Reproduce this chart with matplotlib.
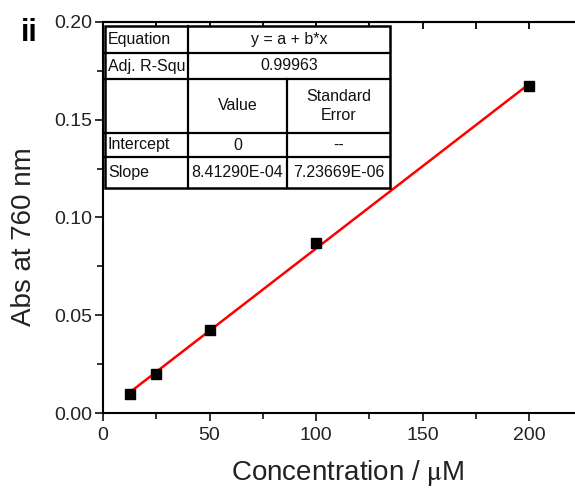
import numpy as np
import matplotlib
matplotlib.use("Agg")
from matplotlib import pyplot as plt
from matplotlib.ticker import MultipleLocator, FormatStrFormatter

plt.rcParams['font.family'] = ['Liberation Sans', 'DejaVu Sans']
plt.rcParams['mathtext.fontset'] = 'stix'

conc = [12.5, 25, 50, 100, 200]
absorb = [0.0097, 0.0200, 0.0424, 0.0872, 0.1675]
slope = 8.41290E-04
intercept = 0.0

table_rows = [
    ["Equation", "y = a + b*x"],
    ["Adj. R-Squ", "0.99963"],
    ["", "Value", "Standard\nError"],
    ["Intercept", "0", "--"],
    ["Slope", "8.41290E-04", "7.23669E-06"],
]

W, H = 575, 491
fig = plt.figure(figsize=(W / 100, H / 100), dpi=100)

# axes in pixel terms: origin (103, 413), x 2.13 px/unit, y top at 22
x0, y0, ytop = 103, 413, 22
ppu = 2.13
xmax = 230
ax_w = xmax * ppu
ax = fig.add_axes([x0 / W, 1 - y0 / H, ax_w / W, (y0 - ytop) / H])

xfit = np.array([conc[0], conc[-1]])
ax.plot(xfit, intercept + slope * xfit, color='#ff0000', lw=1.8, zorder=2)
ax.plot(conc, absorb, 's', color='black', ms=6.5, zorder=3)

ax.set_xlim(0, xmax)
ax.set_ylim(0, 0.20)
ax.xaxis.set_major_locator(MultipleLocator(50))
ax.xaxis.set_minor_locator(MultipleLocator(25))
ax.yaxis.set_major_locator(MultipleLocator(0.05))
ax.yaxis.set_minor_locator(MultipleLocator(0.025))
ax.yaxis.set_major_formatter(FormatStrFormatter('%.2f'))
ax.set_xticks([0, 50, 100, 150, 200])

for s in ax.spines.values():
    s.set_linewidth(1.5)
ax.spines['right'].set_visible(False)

ax.tick_params(which='both', direction='out', top=False, width=1.3, labelsize=14, colors='#222222')
ax.tick_params(which='major', length=6, pad=2)
ax.tick_params(which='minor', length=4)
ax.tick_params(axis='x', which='major', pad=4)
secx = ax.secondary_xaxis('top')
secx.xaxis.set_major_locator(MultipleLocator(25))
secx.tick_params(direction='in', length=5, width=1.3, labeltop=False)
secx.spines['top'].set_linewidth(1.5)

ax.set_xlabel('Concentration / $\\mathrm{\\mu}$M', fontsize=20, labelpad=10, color='#222222')
ax.set_ylabel('Abs at 760 nm', fontsize=20, color='#222222', va='center')
# label centre at about x = 24 px in the figure
ax.yaxis.set_label_coords((24 - x0) / ax_w, 0.45)

fig.text(21 / W, 1 - 33 / H, 'ii', fontsize=22, fontweight='bold', va='center', ha='left')

# results table, drawn in figure pixel coordinates
def fx(px):
    return px / W

def fy(py):
    return 1 - py / H

cols = [105, 188, 287, 390]
rows = [26, 53, 79, 133, 157, 188]
lk = dict(color='black', lw=1.6, transform=fig.transFigure, zorder=5)
fig.add_artist(plt.Rectangle((fx(cols[0]), fy(rows[-1])), fx(cols[-1]) - fx(cols[0]),
                             fy(rows[0]) - fy(rows[-1]), facecolor='white',
                             edgecolor='black', lw=1.8, transform=fig.transFigure, zorder=4))
for r in rows[1:-1]:
    fig.add_artist(plt.Line2D([fx(cols[0]), fx(cols[-1])], [fy(r), fy(r)], **lk))
fig.add_artist(plt.Line2D([fx(cols[1]), fx(cols[1])], [fy(rows[0]), fy(rows[-1])], **lk))
fig.add_artist(plt.Line2D([fx(cols[2]), fx(cols[2])], [fy(rows[2]), fy(rows[-1])], **lk))

tk = dict(fontsize=11.5, va='center', zorder=6, color='#111111')
for i, row in enumerate(table_rows):
    yc = fy((rows[i] + rows[i + 1]) / 2)
    fig.text(fx(cols[0] + 3), yc, row[0], ha='left', **tk)
    if len(row) == 2:
        fig.text(fx((cols[1] + cols[3]) / 2), yc, row[1], ha='center', **tk)
    else:
        fig.text(fx((cols[1] + cols[2]) / 2), yc, row[1], ha='center', **tk)
        fig.text(fx((cols[2] + cols[3]) / 2), yc, row[2], ha='center', linespacing=1.35, **tk)

fig.savefig('out.png', dpi=100)
